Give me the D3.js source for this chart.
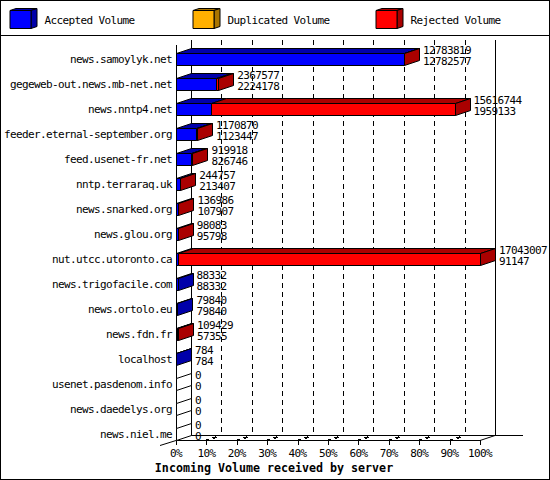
<!DOCTYPE html>
<html>
<head>
<meta charset="utf-8">
<script src="https://cdnjs.cloudflare.com/ajax/libs/d3/7.8.5/d3.min.js"></script>
<style>
	body { margin: 0; background: white; }
	svg { display: block; }
	text { font-family: "DejaVu Sans Mono", monospace; font-size: 11px; letter-spacing: -0.62px; fill: black; }
	.title { font-size: 11.65px; letter-spacing: 0; font-weight: bold; }
</style>
</head>
<body>
<script>
var hosts = ["news.samoylyk.net", "gegeweb-out.news.mb-net.net", "news.nntp4.net",
	"feeder.eternal-september.org", "feed.usenet-fr.net", "nntp.terraraq.uk",
	"news.snarked.org", "news.glou.org", "nut.utcc.utoronto.ca", "news.trigofacile.com",
	"news.ortolo.eu", "news.fdn.fr", "localhost", "usenet.pasdenom.info",
	"news.daedelys.org", "news.niel.me"]
var totalVolume = [12783819, 2367577, 15616744, 1170870, 919918, 244757, 136986, 98083,
	17043007, 88332, 79840, 109429, 784, 0, 0, 0]
var acceptedVolume = [12782577, 2224178, 1959133, 1123447, 826746, 213407, 107907, 95798,
	91147, 88332, 79840, 57355, 784, 0, 0, 0]
var legendNames = ["Accepted Volume", "Duplicated Volume", "Rejected Volume"]
var legendFront = ["#0000ff", "#ffb000", "#ff0000"]
var legendDark = ["#0000aa", "#aa7500", "#aa0000"]
var percentTicks = [0, 10, 20, 30, 40, 50, 60, 70, 80, 90, 100]
var chartTitle = "Incoming Volume received by server"

var w = 550
var h = 480
var depthX = 15
var depthY = 5
var barH = 12
var floorY = 440
var left = 176
var right = 480

var svg = d3.select("body")
	.append("svg")
	.attr("width", w)
	.attr("height", h)

var pctScale = d3.scaleLinear().domain([0, 100]).range([left, right])
var xScale = d3.scaleLinear().domain([0, d3.max(totalVolume)]).range([left, right])
var yScale = d3.scalePoint().domain(hosts).range([59, 434])

function line(g, x1, y1, x2, y2){
	return g.append("line")
		.attr("x1", x1).attr("y1", y1)
		.attr("x2", x2).attr("y2", y2)
		.attr("stroke", "black")
		.attr("stroke-width", 1)
}

// polygon with black outline, points are [x, y] pairs
function poly(g, pts, fill){
	return g.append("polygon")
		.attr("points", pts.map((p) => p.join(",")).join(" "))
		.attr("fill", fill)
		.attr("stroke", "black")
		.attr("stroke-width", 1)
		.attr("stroke-linejoin", "miter")
}

// Frame and legend
var frame = svg.append("g").attr("shape-rendering", "crispEdges")
frame.append("rect")
	.attr("x", 0.5).attr("y", 0.5)
	.attr("width", w - 1).attr("height", h - 1)
	.attr("fill", "white")
	.attr("stroke", "black")
line(frame, 0, 35.5, w, 35.5)

var legendX = [10, 193, 376]
legendNames.forEach(function(name, i){
	var x0 = legendX[i]
	var g = svg.append("g")
	poly(g, [[x0, 10.5], [x0 + 6, 8.5], [x0 + 27, 8.5], [x0 + 21, 10.5]], legendDark[i])
	poly(g, [[x0 + 21, 10.5], [x0 + 27, 8.5], [x0 + 27, 26.5], [x0 + 21, 28.5]], legendDark[i])
	poly(g, [[x0, 10.5], [x0 + 21, 10.5], [x0 + 21, 28.5], [x0, 28.5]], legendFront[i])
	g.append("text")
		.attr("x", x0 + 34.5)
		.attr("y", 24)
		.text(name)
})

// Walls and floor
var grid = svg.append("g").attr("shape-rendering", "crispEdges")
line(grid, left + 0.5, floorY - 395, left + 0.5, floorY)
line(grid, left + depthX + 0.5, floorY - depthY - 395, left + depthX + 0.5, floorY - depthY)
line(grid, right + depthX + 0.5, floorY - depthY - 395, right + depthX + 0.5, floorY - depthY)
line(grid, left + depthX, floorY - depthY + 0.5, 523, floorY - depthY + 0.5)
line(grid, left, floorY + 0.5, right, floorY + 0.5)

grid.selectAll("line.grid")
	.data(percentTicks.slice(1, -1))
	.enter()
	.append("line")
	.attr("class", "grid")
	.attr("x1", (d) => Math.round(pctScale(d)) + depthX + 0.5)
	.attr("x2", (d) => Math.round(pctScale(d)) + depthX + 0.5)
	.attr("y1", floorY - depthY - 395)
	.attr("y2", floorY - depthY)
	.attr("stroke", "black")
	.attr("stroke-dasharray", "5,4")

// Floor ticks
var ticks = svg.append("g")
ticks.selectAll("line.tick")
	.data(percentTicks)
	.enter()
	.append("line")
	.attr("class", "tick")
	.attr("x1", (d) => Math.round(pctScale(d)) + 0.5)
	.attr("x2", (d) => Math.round(pctScale(d)) + 0.5)
	.attr("y1", floorY)
	.attr("y2", floorY + 5)
	.attr("stroke", "black")
	.attr("shape-rendering", "crispEdges")

ticks.selectAll("line.floor")
	.data(percentTicks.slice(1, -1))
	.enter()
	.append("line")
	.attr("class", "floor")
	.attr("x1", (d) => Math.round(pctScale(d)))
	.attr("x2", (d) => Math.round(pctScale(d)) + depthX)
	.attr("y1", floorY + 0.5)
	.attr("y2", floorY - depthY + 0.5)
	.attr("stroke", "black")
	.attr("stroke-width", 1.8)
	.attr("stroke-dasharray", "3,4,4,6")
	.attr("shape-rendering", "crispEdges")

line(ticks, left - 16, floorY + 5.5, left, floorY + 0.5)
line(ticks, right, floorY + 0.5, right + depthX, floorY - depthY + 0.5)

ticks.selectAll("text")
	.data(percentTicks)
	.enter()
	.append("text")
	.attr("x", (d) => pctScale(d))
	.attr("y", 457)
	.attr("text-anchor", "middle")
	.text((d) => d + "%")

// Bars
var bars = svg.append("g")
hosts.forEach(function(host, i){
	var cy = yScale(host)
	var top = cy - barH / 2 + 0.5
	var bottom = top + barH
	var x0 = xScale(0) + 0.5
	var xA = Math.round(xScale(acceptedVolume[i])) + 0.5
	var xT = Math.round(xScale(totalVolume[i])) + 0.5
	var g = bars.append("g")

	var segments = [
		{from: x0, to: xA, value: acceptedVolume[i], front: legendFront[0], dark: legendDark[0]},
		{from: xA, to: xT, value: totalVolume[i] - acceptedVolume[i], front: legendFront[2], dark: legendDark[2]}
	].filter((s) => s.value > 0)

	// zero bars still show an empty side face
	var sideFill = segments.length ? segments[segments.length - 1].dark : "white"

	segments.forEach(function(s){
		poly(g, [[s.from, top], [s.from + depthX, top - depthY], [s.to + depthX, top - depthY], [s.to, top]], s.dark)
	})
	poly(g, [[xT, top], [xT + depthX, top - depthY], [xT + depthX, bottom - depthY], [xT, bottom]], sideFill)
	segments.forEach(function(s){
		if(s.to > s.from){
			poly(g, [[s.from, top], [s.to, top], [s.to, bottom], [s.from, bottom]], s.front)
		}
	})

	svg.append("text")
		.attr("x", 172)
		.attr("y", cy + 4)
		.attr("text-anchor", "end")
		.text(host)
})

// Value labels go on top of everything
hosts.forEach(function(host, i){
	var cy = yScale(host)
	var lx = xScale(totalVolume[i]) + depthX + 4
	svg.append("text").attr("x", lx).attr("y", cy - 5).text(totalVolume[i])
	svg.append("text").attr("x", lx).attr("y", cy + 6).text(acceptedVolume[i])
})

svg.append("text")
	.attr("class", "title")
	.attr("x", 274)
	.attr("y", 472)
	.attr("text-anchor", "middle")
	.text(chartTitle)
</script>
</body>
</html>
